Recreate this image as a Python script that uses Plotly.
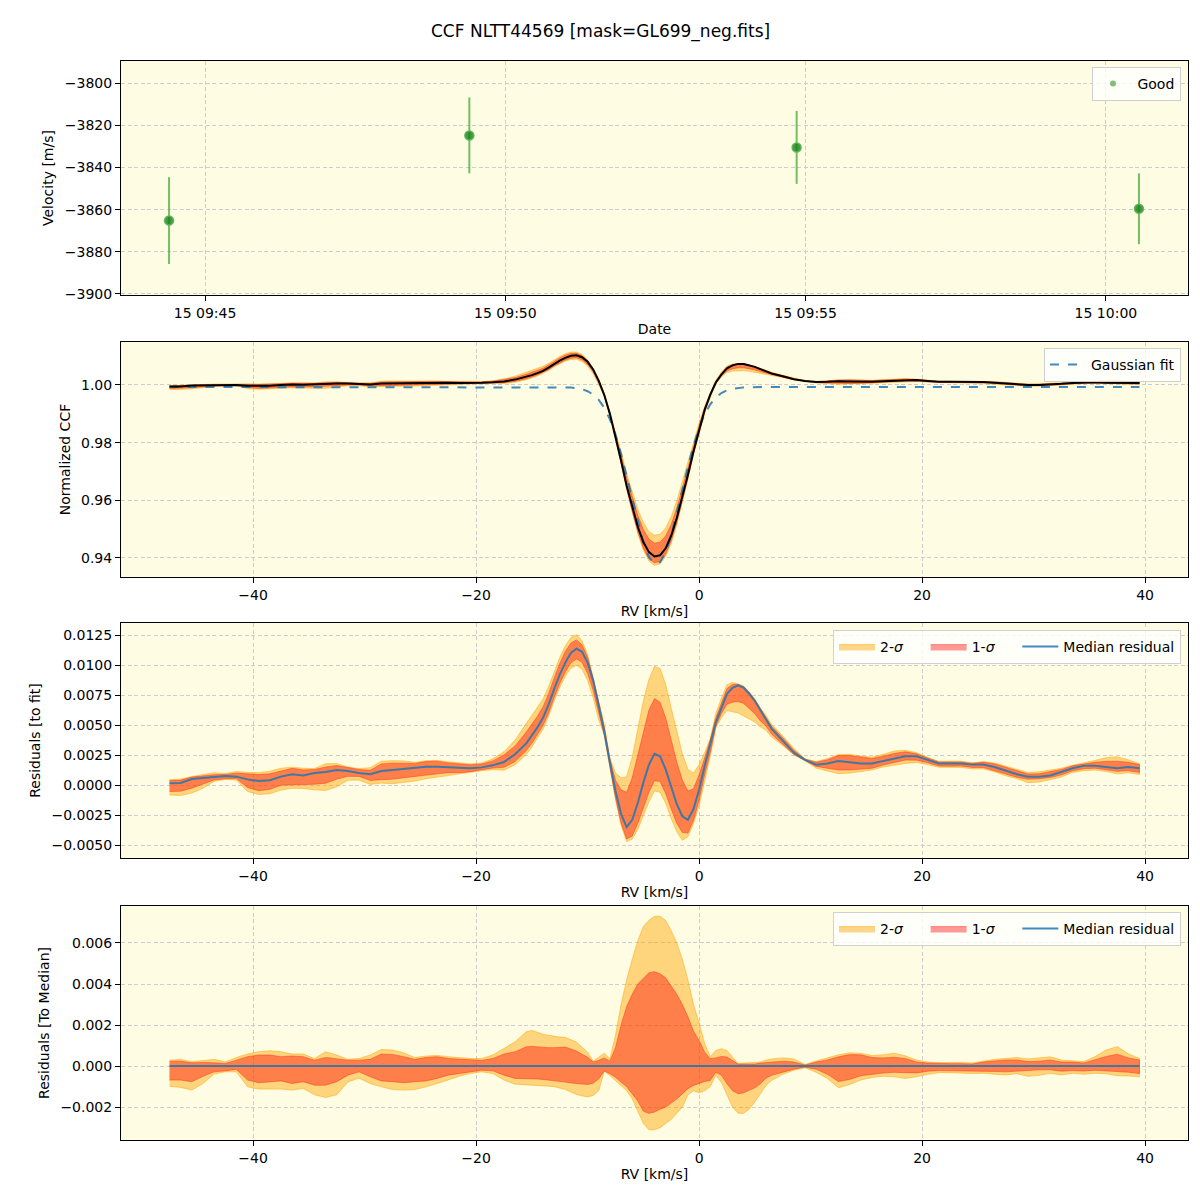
import numpy as np
import plotly.graph_objects as go

# ---------------- data ----------------
title_text = "CCF NLTT44569 [mask=GL699_neg.fits]"

# Panel 1: RV time series
obs_times = ["2023-07-15 09:44:24", "2023-07-15 09:49:24", "2023-07-15 09:54:51", "2023-07-15 10:00:33"]
obs_vel = [-3865.2, -3824.8, -3830.5, -3859.6]
obs_err = [20.6, 18.0, 17.3, 16.8]
date_tickvals = ["2023-07-15 09:45", "2023-07-15 09:50", "2023-07-15 09:55", "2023-07-15 10:00"]
date_ticktext = ["15 09:45", "15 09:50", "15 09:55", "15 10:00"]
vel_tickvals = [-3800, -3820, -3840, -3860, -3880, -3900]
vel_ticktext = ["\u22123800", "\u22123820", "\u22123840", "\u22123860", "\u22123880", "\u22123900"]

# RV grid [km/s]
rv = [-47.5, -46.5, -45.5, -44.5, -43.5, -42.5, -41.5, -40.5, -39.5, -38.5, -37.5,
      -36.5, -35.5, -34.5, -33.5, -32.5, -31.5, -30.5, -29.5, -28.5, -27.5, -26.5,
      -25.5, -24.5, -23.5, -22.5, -21.5, -20.5, -19.5, -18.5, -17.5, -16.5, -15.5,
      -15.0, -14.5, -14.0, -13.5, -13.0, -12.5, -12.0, -11.5, -11.0, -10.5, -10.0,
      -9.5, -9.0, -8.5, -8.0, -7.5, -7.0, -6.5, -6.0, -5.5, -5.0, -4.5, -4.0, -3.5,
      -3.0, -2.5, -2.0, -1.5, -1.0, -0.5, 0.0, 0.5, 1.0, 1.5, 2.0, 2.5, 3.0, 3.5,
      4.0, 4.5, 5.0, 5.5, 6.0,
      6.5, 7.5, 8.5, 9.5, 10.5, 11.5, 12.5, 13.5, 14.5, 15.5, 16.5, 17.5, 18.5,
      19.5, 20.5, 21.5, 22.5, 23.5, 24.5, 25.5, 26.5, 27.5, 28.5, 29.5, 30.5, 31.5,
      32.5, 33.5, 34.5, 35.5, 36.5, 37.5, 38.5, 39.5]

# Gaussian fit parameters
fit_offset = 0.9993
fit_depth = 0.0615
fit_center = -3.85
fit_sigma = 2.25

# Median residual to the fit
median_resid = [0.00014, 0.00017, 0.00050, 0.00058, 0.00070, 0.00075, 0.00070, 0.00047, 0.00033, 0.00040, 0.00070,
                0.00090, 0.00080, 0.00100, 0.00108, 0.00125, 0.00117, 0.00100, 0.00090, 0.00117, 0.00125, 0.00136,
                0.00147, 0.00153, 0.00153, 0.00147, 0.00142, 0.00139, 0.00147, 0.00164, 0.00192, 0.00256, 0.00347,
                0.0041, 0.0048, 0.0056, 0.0067, 0.0080, 0.0092, 0.0102, 0.0110, 0.01136, 0.0111, 0.0102,
                0.0087, 0.0066, 0.0044, 0.0019, -0.0005, -0.0024, -0.0035, -0.0029, -0.0015, 0.0002, 0.0017, 0.0026, 0.0024,
                0.0013, -0.0002, -0.0016, -0.0026, -0.0029, -0.0020, -0.0004, 0.0016, 0.0034, 0.0052, 0.0064, 0.0076, 0.0081, 0.0083,
                0.0081, 0.0076, 0.0070, 0.0062, 0.0055,
                0.0047, 0.0037, 0.0027, 0.0021, 0.0017, 0.0018, 0.0020, 0.0019, 0.0018, 0.0018, 0.0020, 0.0022, 0.0024,
                0.0024, 0.0021, 0.0018, 0.0018, 0.0018, 0.0017, 0.0017, 0.0015, 0.0012, 0.0009, 0.0007, 0.0007, 0.0008,
                0.0011, 0.0014, 0.0016, 0.0016, 0.0015, 0.0014, 0.0015, 0.0014]

# Band edges relative to the median
sig1_hi = [0.00024, 0.00024, 0.00016, 0.00018, 0.00016, 0.00013, 0.00029, 0.00046, 0.00054, 0.00054, 0.00046,
           0.00049, 0.00046, 0.00029, 0.00042, 0.00037, 0.00029, 0.00029, 0.00033, 0.00059, 0.00057, 0.00046,
           0.00033, 0.00042, 0.00046, 0.00037, 0.00033, 0.00029, 0.00028, 0.00037, 0.00059, 0.00070, 0.00094,
           0.00096, 0.00093, 0.00090, 0.00090, 0.00090, 0.00092, 0.00093, 0.00083, 0.00073, 0.00058, 0.00044,
           0.00020, 0.00028, 0.00040, 0.00024, 0.00090, 0.00200, 0.00290, 0.00350, 0.00400, 0.00430, 0.00455, 0.00460, 0.00450,
           0.00430, 0.00390, 0.00350, 0.00300, 0.00240, 0.00170, 0.00125, 0.00068, 0.00036, 0.00040, 0.00047, 0.00044, 0.00028, 0.00010,
           0.00010, 0.00010, 0.00010, 0.00015, 0.00018,
           0.00020, 0.00024, 0.00020, 0.00005, 0.00020, 0.00030, 0.00045, 0.00056, 0.00055, 0.00042, 0.00040, 0.00043, 0.00037,
           0.00020, 0.00015, 0.00012, 0.00012, 0.00012, 0.00010, 0.00020, 0.00026, 0.00030, 0.00030, 0.00022, 0.00024, 0.00030,
           0.00020, 0.00020, 0.00015, 0.00030, 0.00047, 0.00058, 0.00040, 0.00030]
sig1_lo = [-0.00068, -0.00068, -0.00076, -0.00050, -0.00028, -0.00023, -0.00016, -0.00068, -0.00081, -0.00076, -0.00072,
           -0.00085, -0.00076, -0.00093, -0.00093, -0.00076, -0.00044, -0.00028, -0.00052, -0.00072, -0.00076, -0.00081,
           -0.00076, -0.00072, -0.00060, -0.00044, -0.00039, -0.00028, -0.00020, -0.00023, -0.00044, -0.00060, -0.00060,
           -0.00062, -0.00063, -0.00065, -0.00068, -0.00070, -0.00074, -0.00078, -0.00082, -0.00086, -0.00088, -0.00090,
           -0.00083, -0.00062, -0.00024, -0.00037, -0.00054, -0.00078, -0.00100, -0.00135, -0.00170, -0.00220, -0.00230, -0.00224, -0.00210,
           -0.00200, -0.00180, -0.00160, -0.00135, -0.00110, -0.00094, -0.00086, -0.00075, -0.00070, -0.00030, -0.00045, -0.00086, -0.00120, -0.00135,
           -0.00130, -0.00120, -0.00106, -0.00086, -0.00059,
           -0.00045, -0.00030, -0.00015, -0.00005, -0.00015, -0.00040, -0.00075, -0.00065, -0.00047, -0.00040, -0.00034, -0.00030, -0.00032,
           -0.00033, -0.00025, -0.00022, -0.00023, -0.00022, -0.00023, -0.00025, -0.00026, -0.00028, -0.00025, -0.00022, -0.00018, -0.00018,
           -0.00025, -0.00022, -0.00024, -0.00020, -0.00022, -0.00026, -0.00030, -0.00036]
sig2_hi = [0.00029, 0.00033, 0.00021, 0.00026, 0.00033, 0.00021, 0.00042, 0.00059, 0.00070, 0.00075, 0.00070,
           0.00059, 0.00059, 0.00037, 0.00070, 0.00054, 0.00033, 0.00037, 0.00054, 0.00081, 0.00078, 0.00065,
           0.00042, 0.00049, 0.00052, 0.00046, 0.00042, 0.00037, 0.00037, 0.00054, 0.00086, 0.00119, 0.00167,
           0.00174, 0.00165, 0.00155, 0.00150, 0.00145, 0.00142, 0.00140, 0.00128, 0.00117, 0.00092, 0.00068,
           0.00024, 0.00044, 0.00063, 0.00036, 0.00150, 0.00300, 0.00420, 0.00520, 0.00610, 0.00680, 0.00710, 0.00730, 0.00730,
           0.00710, 0.00660, 0.00600, 0.00520, 0.00420, 0.00300, 0.00210, 0.00110, 0.00047, 0.00076, 0.00085, 0.00076, 0.00044, 0.00012,
           0.00015, 0.00015, 0.00018, 0.00020, 0.00030,
           0.00035, 0.00040, 0.00035, 0.00008, 0.00025, 0.00040, 0.00055, 0.00065, 0.00062, 0.00052, 0.00055, 0.00063, 0.00050,
           0.00030, 0.00020, 0.00017, 0.00018, 0.00018, 0.00015, 0.00025, 0.00033, 0.00037, 0.00042, 0.00035, 0.00040, 0.00045,
           0.00030, 0.00025, 0.00022, 0.00045, 0.00078, 0.00095, 0.00060, 0.00037]
sig2_lo = [-0.00098, -0.00104, -0.00117, -0.00085, -0.00039, -0.00028, -0.00028, -0.00101, -0.00112, -0.00112, -0.00112,
           -0.00117, -0.00109, -0.00140, -0.00153, -0.00140, -0.00077, -0.00059, -0.00085, -0.00101, -0.00114, -0.00117,
           -0.00114, -0.00101, -0.00085, -0.00068, -0.00049, -0.00036, -0.00028, -0.00036, -0.00068, -0.00088, -0.00093,
           -0.00094, -0.00095, -0.00096, -0.00098, -0.00100, -0.00107, -0.00114, -0.00126, -0.00138, -0.00145, -0.00150,
           -0.00143, -0.00120, -0.00024, -0.00046, -0.00070, -0.00094, -0.00120, -0.00160, -0.00220, -0.00280, -0.00310, -0.00310, -0.00300,
           -0.00280, -0.00260, -0.00230, -0.00200, -0.00140, -0.00120, -0.00130, -0.00120, -0.00100, -0.00045, -0.00080, -0.00140, -0.00200, -0.00230,
           -0.00230, -0.00210, -0.00175, -0.00135, -0.00094,
           -0.00070, -0.00040, -0.00020, -0.00008, -0.00030, -0.00060, -0.00105, -0.00090, -0.00068, -0.00055, -0.00050, -0.00052, -0.00060,
           -0.00052, -0.00040, -0.00032, -0.00032, -0.00033, -0.00036, -0.00035, -0.00040, -0.00043, -0.00037, -0.00050, -0.00045, -0.00035,
           -0.00043, -0.00035, -0.00040, -0.00035, -0.00037, -0.00047, -0.00048, -0.00052]

rv_tickvals = [-40, -20, 0, 20, 40]
rv_ticktext = ["\u221240", "\u221220", "0", "20", "40"]
ccf_tickvals = [0.94, 0.96, 0.98, 1.00]
ccf_ticktext = ["0.94", "0.96", "0.98", "1.00"]
res_tickvals = [-0.005, -0.0025, 0.0, 0.0025, 0.005, 0.0075, 0.010, 0.0125]
res_ticktext = ["\u22120.0050", "\u22120.0025", "0.0000", "0.0025", "0.0050", "0.0075", "0.0100", "0.0125"]
rel_tickvals = [-0.002, 0.0, 0.002, 0.004, 0.006]
rel_ticktext = ["\u22120.002", "0.000", "0.002", "0.004", "0.006"]

# ---------------- derived ----------------
x = np.array(rv)
med = np.array(median_resid)
s1h, s1l = np.array(sig1_hi), np.array(sig1_lo)
s2h, s2l = np.array(sig2_hi), np.array(sig2_lo)
fit = fit_offset - fit_depth * np.exp(-0.5 * ((x - fit_center) / fit_sigma) ** 2)

C2_FILL = "rgba(255,165,0,0.45)"
C2_LINE = "rgba(255,165,0,0.5)"
C1_FILL = "rgba(255,0,0,0.40)"
C1_LINE = "rgba(255,40,20,0.45)"
BLUE = "rgba(31,119,180,0.85)"
FONT = "DejaVu Sans"
NB = "\u00a0"

fig = go.Figure()


def band(lo, hi, fill, line, name, xa, ya, legend=None, show=False):
    return go.Scatter(x=np.concatenate([x, x[::-1]]), y=np.concatenate([hi, lo[::-1]]),
                      fill="toself", fillcolor=fill, mode="lines", line=dict(color=line, width=1),
                      name=name, xaxis=xa, yaxis=ya, showlegend=show, legend=legend, hoverinfo="skip")


# Panel 1
fig.add_trace(go.Scatter(x=obs_times, y=obs_vel, mode="markers",
                         error_y=dict(type="data", array=obs_err, color="rgba(70,170,60,0.75)", thickness=2, width=0),
                         marker=dict(size=9, color="rgba(20,130,20,0.8)", line=dict(color="rgba(90,180,90,0.9)", width=1.5)),
                         xaxis="x", yaxis="y", showlegend=False))
fig.add_trace(go.Scatter(x=[None], y=[None], mode="markers", name=NB + "Good",
                         marker=dict(size=6, color="rgba(40,150,40,0.6)"),
                         xaxis="x", yaxis="y", legend="legend", showlegend=True))

# Panel 2
fig.add_trace(band(fit + med + s2l, fit + med + s2h, C2_FILL, C2_LINE, "2-σ", "x2", "y2"))
fig.add_trace(band(fit + med + s1l, fit + med + s1h, C1_FILL, C1_LINE, "1-σ", "x2", "y2"))
fig.add_trace(go.Scatter(x=x, y=fit, mode="lines", name="Gaussian fit",
                         line=dict(color=BLUE, width=2, dash="dash"),
                         xaxis="x2", yaxis="y2", legend="legend2", showlegend=True))
fig.add_trace(go.Scatter(x=x, y=fit + med, mode="lines", line=dict(color="black", width=2),
                         xaxis="x2", yaxis="y2", showlegend=False))

# Panel 3
n2 = "2-<i>σ</i>" + NB * 4
n1 = "1-<i>σ</i>" + NB * 4
fig.add_trace(band(med + s2l, med + s2h, C2_FILL, C2_LINE, n2, "x3", "y3", "legend3", True))
fig.add_trace(band(med + s1l, med + s1h, C1_FILL, C1_LINE, n1, "x3", "y3", "legend3", True))
fig.add_trace(go.Scatter(x=x, y=med, mode="lines", name="Median residual",
                         line=dict(color=BLUE, width=2), xaxis="x3", yaxis="y3",
                         legend="legend3", showlegend=True))

# Panel 4
zero = med - med
fig.add_trace(band(zero + s2l, zero + s2h, C2_FILL, C2_LINE, n2, "x4", "y4", "legend4", True))
fig.add_trace(band(zero + s1l, zero + s1h, C1_FILL, C1_LINE, n1, "x4", "y4", "legend4", True))
fig.add_trace(go.Scatter(x=x, y=zero, mode="lines", name="Median residual",
                         line=dict(color=BLUE, width=2), xaxis="x4", yaxis="y4",
                         legend="legend4", showlegend=True))

axis_common = dict(showline=True, linecolor="black", linewidth=1, mirror=True,
                   ticks="outside", ticklen=5, tickwidth=1, tickcolor="black",
                   showgrid=True, gridcolor="#cdcdcd", griddash="4px,2.5px", gridwidth=1,
                   zeroline=False, automargin=False,
                   tickfont=dict(family=FONT, size=14, color="black"),
                   title_font=dict(family=FONT, size=14, color="black"))

XD = [121 / 1200, 1188 / 1200]
doms = [[1 - 295 / 1200, 1 - 61 / 1200], [1 - 577 / 1200, 1 - 342 / 1200],
        [1 - 858 / 1200, 1 - 623 / 1200], [1 - 1140 / 1200, 1 - 906 / 1200]]
xr = [-51.85, 43.85]

layout = dict(
    width=1200, height=1200, margin=dict(l=0, r=0, t=0, b=0),
    paper_bgcolor="white", plot_bgcolor="#FEFCE2",
    font=dict(family=FONT, size=14, color="black"),
    template="none",
    xaxis=dict(axis_common, domain=XD, anchor="y", type="date",
               range=["2023-07-15 09:43:36", "2023-07-15 10:01:22"],
               tickvals=date_tickvals, ticktext=date_ticktext,
               title=dict(text="Date", standoff=4)),
    yaxis=dict(axis_common, domain=doms[0], anchor="x", range=[-3900.5, -3789.5],
               tickvals=vel_tickvals, ticktext=vel_ticktext,
               title=dict(text="Velocity [m/s]", standoff=7)),
    xaxis2=dict(axis_common, domain=XD, anchor="y2", range=xr, tickvals=rv_tickvals, ticktext=rv_ticktext,
                title=dict(text="RV [km/s]", standoff=4)),
    yaxis2=dict(axis_common, domain=doms[1], anchor="x2", range=[0.9334, 1.0149],
                tickvals=ccf_tickvals, ticktext=ccf_ticktext,
                title=dict(text="Normalized CCF", standoff=7)),
    xaxis3=dict(axis_common, domain=XD, anchor="y3", range=xr, tickvals=rv_tickvals, ticktext=rv_ticktext,
                title=dict(text="RV [km/s]", standoff=4)),
    yaxis3=dict(axis_common, domain=doms[2], anchor="x3", range=[-0.00608, 0.0135],
                tickvals=res_tickvals, ticktext=res_ticktext,
                title=dict(text="Residuals [to fit]", standoff=7)),
    xaxis4=dict(axis_common, domain=XD, anchor="y4", range=xr, tickvals=rv_tickvals, ticktext=rv_ticktext,
                title=dict(text="RV [km/s]", standoff=4)),
    yaxis4=dict(axis_common, domain=doms[3], anchor="x4", range=[-0.0036, 0.0078],
                tickvals=rel_tickvals, ticktext=rel_ticktext,
                title=dict(text="Residuals [To Median]", standoff=7)),
    annotations=[dict(text=title_text, x=0.5, y=1 - 32 / 1200, xref="paper", yref="paper",
                      xanchor="center", yanchor="middle", showarrow=False,
                      font=dict(family=FONT, size=17, color="black"))],
)

leg_common = dict(bgcolor="rgba(255,255,255,0.8)", bordercolor="#d0d0d0", borderwidth=1,
                  font=dict(family=FONT, size=14, color="black"), xanchor="right", yanchor="top",
                  itemwidth=36)
layout["legend"] = dict(leg_common, x=1181 / 1200, y=1 - 67 / 1200, itemwidth=30)
layout["legend2"] = dict(leg_common, x=1181 / 1200, y=1 - 348 / 1200)
layout["legend3"] = dict(leg_common, x=1181 / 1200, y=1 - 630 / 1200, orientation="h")
layout["legend4"] = dict(leg_common, x=1181 / 1200, y=1 - 912 / 1200, orientation="h")

fig.update_layout(**layout)
fig.write_html("out.html", config={"displayModeBar": False},
               post_script="document.body.style.margin='0';document.body.style.padding='0';")
